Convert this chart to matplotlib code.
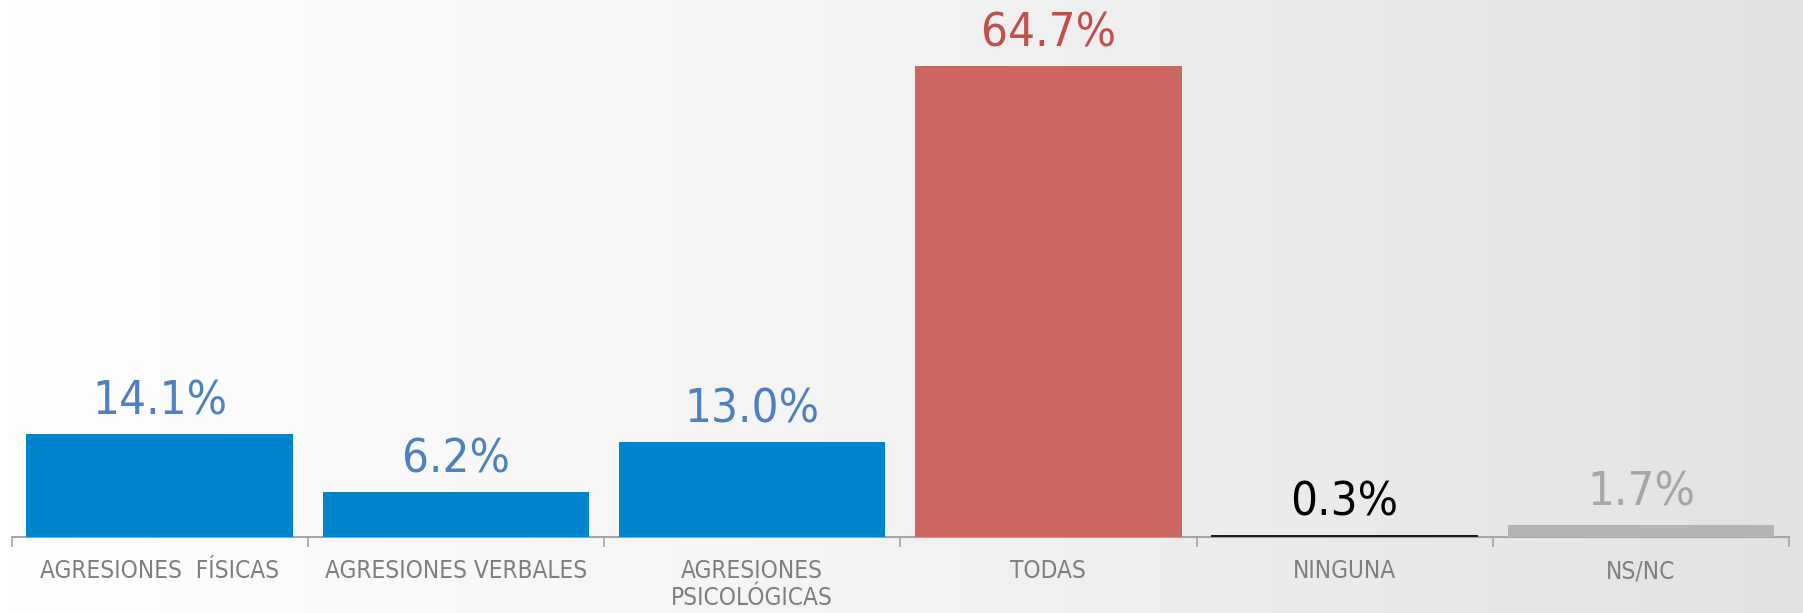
import numpy as np
import matplotlib
matplotlib.use("Agg")
import matplotlib.pyplot as plt
from matplotlib import font_manager
from matplotlib.colors import LinearSegmentedColormap

categories = ["AGRESIONES  FÍSICAS", "AGRESIONES VERBALES", "AGRESIONES\nPSICOLÓGICAS",
              "TODAS", "NINGUNA", "NS/NC"]
values = [14.1, 6.2, 13.0, 64.7, 0.3, 1.7]
labels = ["14.1%", "6.2%", "13.0%", "64.7%", "0.3%", "1.7%"]
bar_colors = ["#0084CC", "#0084CC", "#0084CC", "#CC6660", "#1A1A1A", "#B4B4B4"]
text_colors = ["#4F81BD", "#4F81BD", "#4F81BD", "#C0504D", "#000000", "#A6A6A6"]

names = {f.name for f in font_manager.fontManager.ttflist}
if "Liberation Sans Narrow" in names:
    FONT = "Liberation Sans Narrow"
    STRETCH = "normal"
elif "DejaVu Sans Condensed" in names:
    FONT = "DejaVu Sans Condensed"
    STRETCH = "normal"
else:
    FONT = "DejaVu Sans"
    STRETCH = "condensed"
plt.rcParams["font.family"] = [FONT, "DejaVu Sans"]

fig = plt.figure(figsize=(18.03, 6.13), dpi=100)

# background gradient
bg = fig.add_axes([0, 0, 1, 1], zorder=0)
grad = np.linspace(0, 1, 512)[None, :]
cmap = LinearSegmentedColormap.from_list("bg", ["#FFFFFF", "#F3F3F3", "#E2E2E2"])
bg.imshow(grad, aspect="auto", cmap=cmap, extent=[0, 1, 0, 1])
bg.set_axis_off()

ax = fig.add_axes([11.5 / 1803, 76 / 613, (1789 - 11.5) / 1803, 537 / 613], zorder=1)
ax.patch.set_alpha(0)
x = np.arange(len(values))
bars = ax.bar(x, values, width=0.9, color=bar_colors, zorder=3)
ax.set_xlim(-0.5, len(values) - 0.5)
ax.set_ylim(0, 73.7)

for xi, v, lab, c in zip(x, values, labels, text_colors):
    ax.annotate(lab, (xi, v), xytext=(0, 14), textcoords="offset points",
                ha="center", va="baseline", fontsize=34, color=c,
                fontstretch=STRETCH)

for s in ["top", "right", "left"]:
    ax.spines[s].set_visible(False)
ax.spines["bottom"].set_color("#A6A6A6")
ax.spines["bottom"].set_linewidth(1.5)
ax.set_yticks([])
ax.set_xticks(x)
ax.set_xticklabels(categories, fontsize=17.5, color="#7F7F7F", linespacing=1.15,
                   fontstretch=STRETCH)
ax.tick_params(axis="x", which="major", length=0, pad=16)
ax.set_xticks(np.arange(-0.5, len(values)), minor=True)
ax.tick_params(axis="x", which="minor", length=7, width=1.2, color="#A6A6A6", direction="out")

fig.savefig("out.png", dpi=100)
